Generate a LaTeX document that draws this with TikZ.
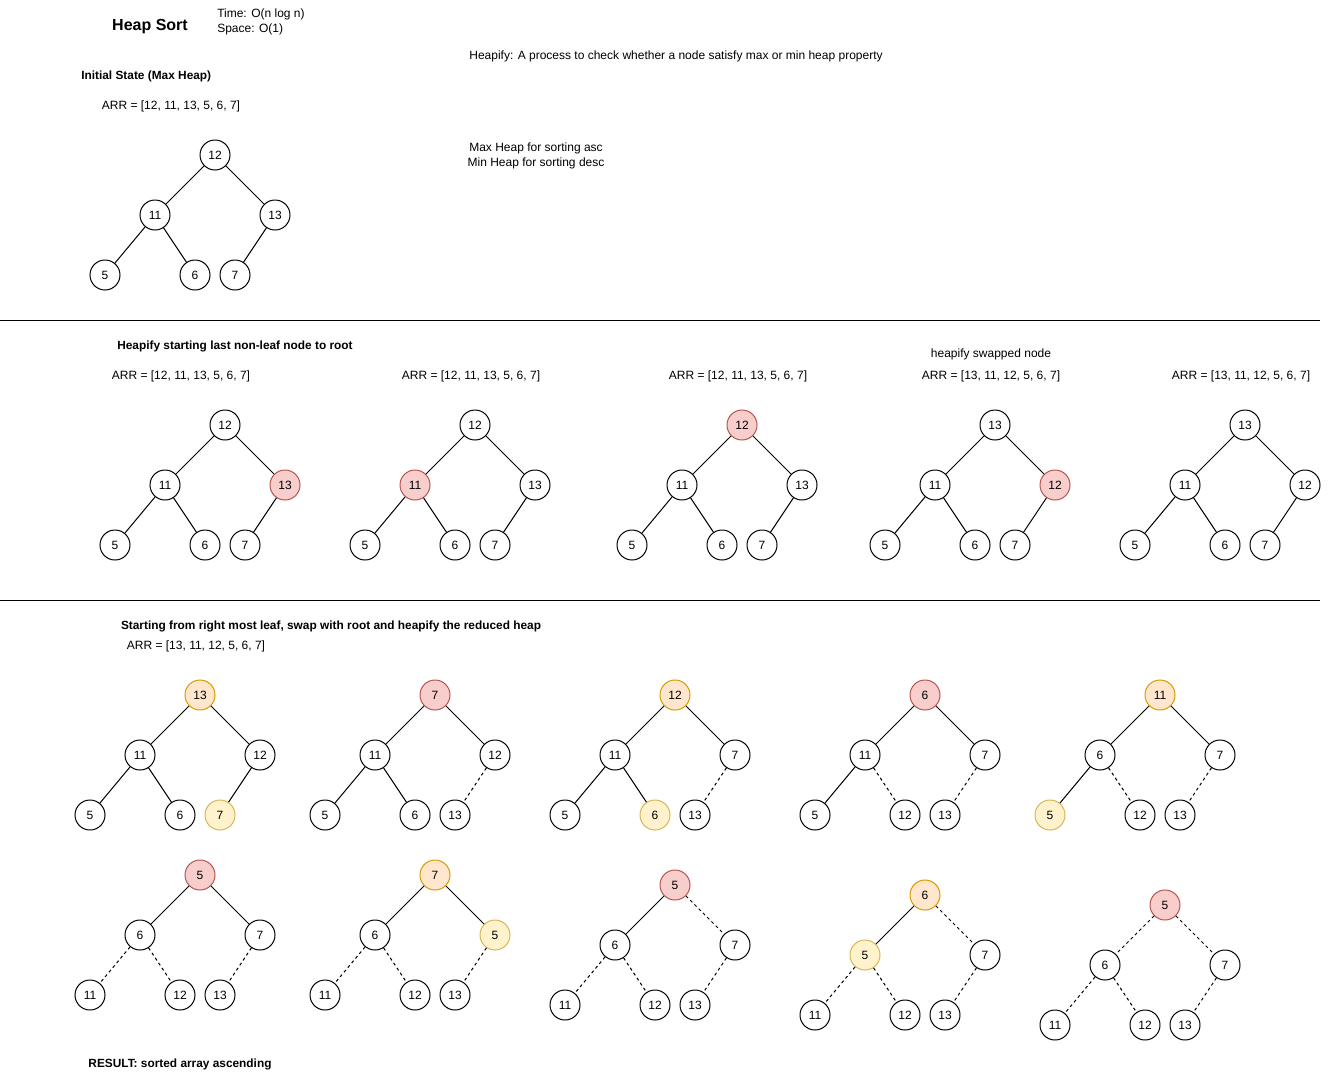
\documentclass[tikz,border=0pt]{standalone}
\usepackage{fontspec}
\setmainfont{Liberation Sans}
\definecolor{rfill}{HTML}{F8CECC}
\definecolor{rdraw}{HTML}{B85450}
\definecolor{ofill}{HTML}{FFE6CC}
\definecolor{odraw}{HTML}{D79B00}
\definecolor{yfill}{HTML}{FFF2CC}
\definecolor{ydraw}{HTML}{D6B656}
\tikzset{
  hn/.style={circle, draw, line width=0.75pt, minimum size=22.5pt, inner sep=0pt, fill=white, font=\fontsize{9}{11}\selectfont},
  rednode/.style={fill=rfill, draw=rdraw},
  orangenode/.style={fill=ofill, draw=odraw},
  yellownode/.style={fill=yfill, draw=ydraw},
  edge/.style={line width=0.75pt},
  dsh/.style={dash pattern=on 2.25pt off 2.25pt},
  txt/.style={font=\fontsize{9}{11}\selectfont, inner sep=0pt, yshift=-1.1pt},
  btxt/.style={font=\fontsize{8.9}{11}\selectfont\bfseries, inner sep=0pt, yshift=-1.1pt},
  nA/.style={}, nB/.style={}, nC/.style={}, nD/.style={}, nE/.style={}, nF/.style={},
  eB/.style={}, eC/.style={}, eD/.style={}, eE/.style={}, eF/.style={},
}
% #1 prefix, #2 x, #3 y, #4 root, #5 left, #6 right, #7 LL, #8 LR, #9 RL
\newcommand\htree[9]{%
  \node[hn,nA] (#1a) at (#2,#3) {#4};
  \node[hn,nB] (#1b) at ({#2-60},{#3+60}) {#5};
  \node[hn,nC] (#1c) at ({#2+60},{#3+60}) {#6};
  \node[hn,nD] (#1d) at ({#2-110},{#3+120}) {#7};
  \node[hn,nE] (#1e) at ({#2-20},{#3+120}) {#8};
  \node[hn,nF] (#1f) at ({#2+20},{#3+120}) {#9};
  \draw[edge,eB] (#1a) -- (#1b);
  \draw[edge,eC] (#1a) -- (#1c);
  \draw[edge,eD] (#1b) -- (#1d);
  \draw[edge,eE] (#1b) -- (#1e);
  \draw[edge,eF] (#1c) -- (#1f);
}
\begin{document}
\begin{tikzpicture}[x=0.75pt,y=-0.75pt]
\useasboundingbox (0,0) rectangle (1331,1078);

% header texts
\node[font=\fontsize{12}{14}\selectfont\bfseries, inner sep=0pt, yshift=-1.1pt] (title) at (150,25) {Heap Sort};
\node[txt, anchor=west] (time) at (217,13) {Time: O(n log n)};
\node[txt, anchor=west] (space) at (217,28) {Space: O(1)};
\node[txt] (heapify) at (676,55) {Heapify: A process to check whether a node satisfy max or min heap property};
\node[btxt, anchor=west] (init) at (81,75) {Initial State (Max Heap)};
\node[txt] (arr0) at (171,105) {ARR = [12, 11, 13, 5, 6, 7]};
\node[txt] (maxasc) at (536,147) {Max Heap for sorting asc};
\node[txt] (mindesc) at (536,162) {Min Heap for sorting desc};

% initial tree
\htree{t0}{215}{155}{12}{11}{13}{5}{6}{7}

% separators
\draw[line width=0.75pt] (0,320) coordinate (s1a) -- (1320,320) coordinate (s1b);
\draw[line width=0.75pt] (0,600) coordinate (s2a) -- (1320,600) coordinate (s2b);

% row 2
\node[btxt] (h2) at (235,345) {Heapify starting last non-leaf node to root};
\node[txt] (a21) at (181,375) {ARR = [12, 11, 13, 5, 6, 7]};
\node[txt] (a22) at (471,375) {ARR = [12, 11, 13, 5, 6, 7]};
\node[txt] (a23) at (738,375) {ARR = [12, 11, 13, 5, 6, 7]};
\node[txt] (hsw) at (991,353) {heapify swapped node};
\node[txt] (a24) at (991,375) {ARR = [13, 11, 12, 5, 6, 7]};
\node[txt] (a25) at (1241,375) {ARR = [13, 11, 12, 5, 6, 7]};

\begin{scope}[nC/.style={rednode}]
\htree{t21}{225}{425}{12}{11}{13}{5}{6}{7}
\end{scope}
\begin{scope}[nB/.style={rednode}]
\htree{t22}{475}{425}{12}{11}{13}{5}{6}{7}
\end{scope}
\begin{scope}[nA/.style={rednode}]
\htree{t23}{742}{425}{12}{11}{13}{5}{6}{7}
\end{scope}
\begin{scope}[nC/.style={rednode}]
\htree{t24}{995}{425}{13}{11}{12}{5}{6}{7}
\end{scope}
\htree{t25}{1245}{425}{13}{11}{12}{5}{6}{7}

% row 3
\node[btxt] (h3) at (331,625) {Starting from right most leaf, swap with root and heapify the reduced heap};
\node[txt] (a31) at (196,645) {ARR = [13, 11, 12, 5, 6, 7]};

\begin{scope}[nA/.style={orangenode}, nF/.style={yellownode}]
\htree{t31}{200}{695}{13}{11}{12}{5}{6}{7}
\end{scope}
\begin{scope}[nA/.style={rednode}, eF/.style={dsh}]
\htree{t32}{435}{695}{7}{11}{12}{5}{6}{13}
\end{scope}
\begin{scope}[nA/.style={orangenode}, nE/.style={yellownode}, eF/.style={dsh}]
\htree{t33}{675}{695}{12}{11}{7}{5}{6}{13}
\end{scope}
\begin{scope}[nA/.style={rednode}, eE/.style={dsh}, eF/.style={dsh}]
\htree{t34}{925}{695}{6}{11}{7}{5}{12}{13}
\end{scope}
\begin{scope}[nA/.style={orangenode}, nD/.style={yellownode}, eE/.style={dsh}, eF/.style={dsh}]
\htree{t35}{1160}{695}{11}{6}{7}{5}{12}{13}
\end{scope}

% row 4
\begin{scope}[nA/.style={rednode}, eD/.style={dsh}, eE/.style={dsh}, eF/.style={dsh}]
\htree{t41}{200}{875}{5}{6}{7}{11}{12}{13}
\end{scope}
\begin{scope}[nA/.style={orangenode}, nC/.style={yellownode}, eD/.style={dsh}, eE/.style={dsh}, eF/.style={dsh}]
\htree{t42}{435}{875}{7}{6}{5}{11}{12}{13}
\end{scope}
\begin{scope}[nA/.style={rednode}, eC/.style={dsh}, eD/.style={dsh}, eE/.style={dsh}, eF/.style={dsh}]
\htree{t43}{675}{885}{5}{6}{7}{11}{12}{13}
\end{scope}
\begin{scope}[nA/.style={orangenode}, nB/.style={yellownode}, eC/.style={dsh}, eD/.style={dsh}, eE/.style={dsh}, eF/.style={dsh}]
\htree{t44}{925}{895}{6}{5}{7}{11}{12}{13}
\end{scope}
\begin{scope}[nA/.style={rednode}, eB/.style={dsh}, eC/.style={dsh}, eD/.style={dsh}, eE/.style={dsh}, eF/.style={dsh}]
\htree{t45}{1165}{905}{5}{6}{7}{11}{12}{13}
\end{scope}

\node[btxt] (res) at (180,1063) {RESULT: sorted array ascending};
\end{tikzpicture}
\end{document}
